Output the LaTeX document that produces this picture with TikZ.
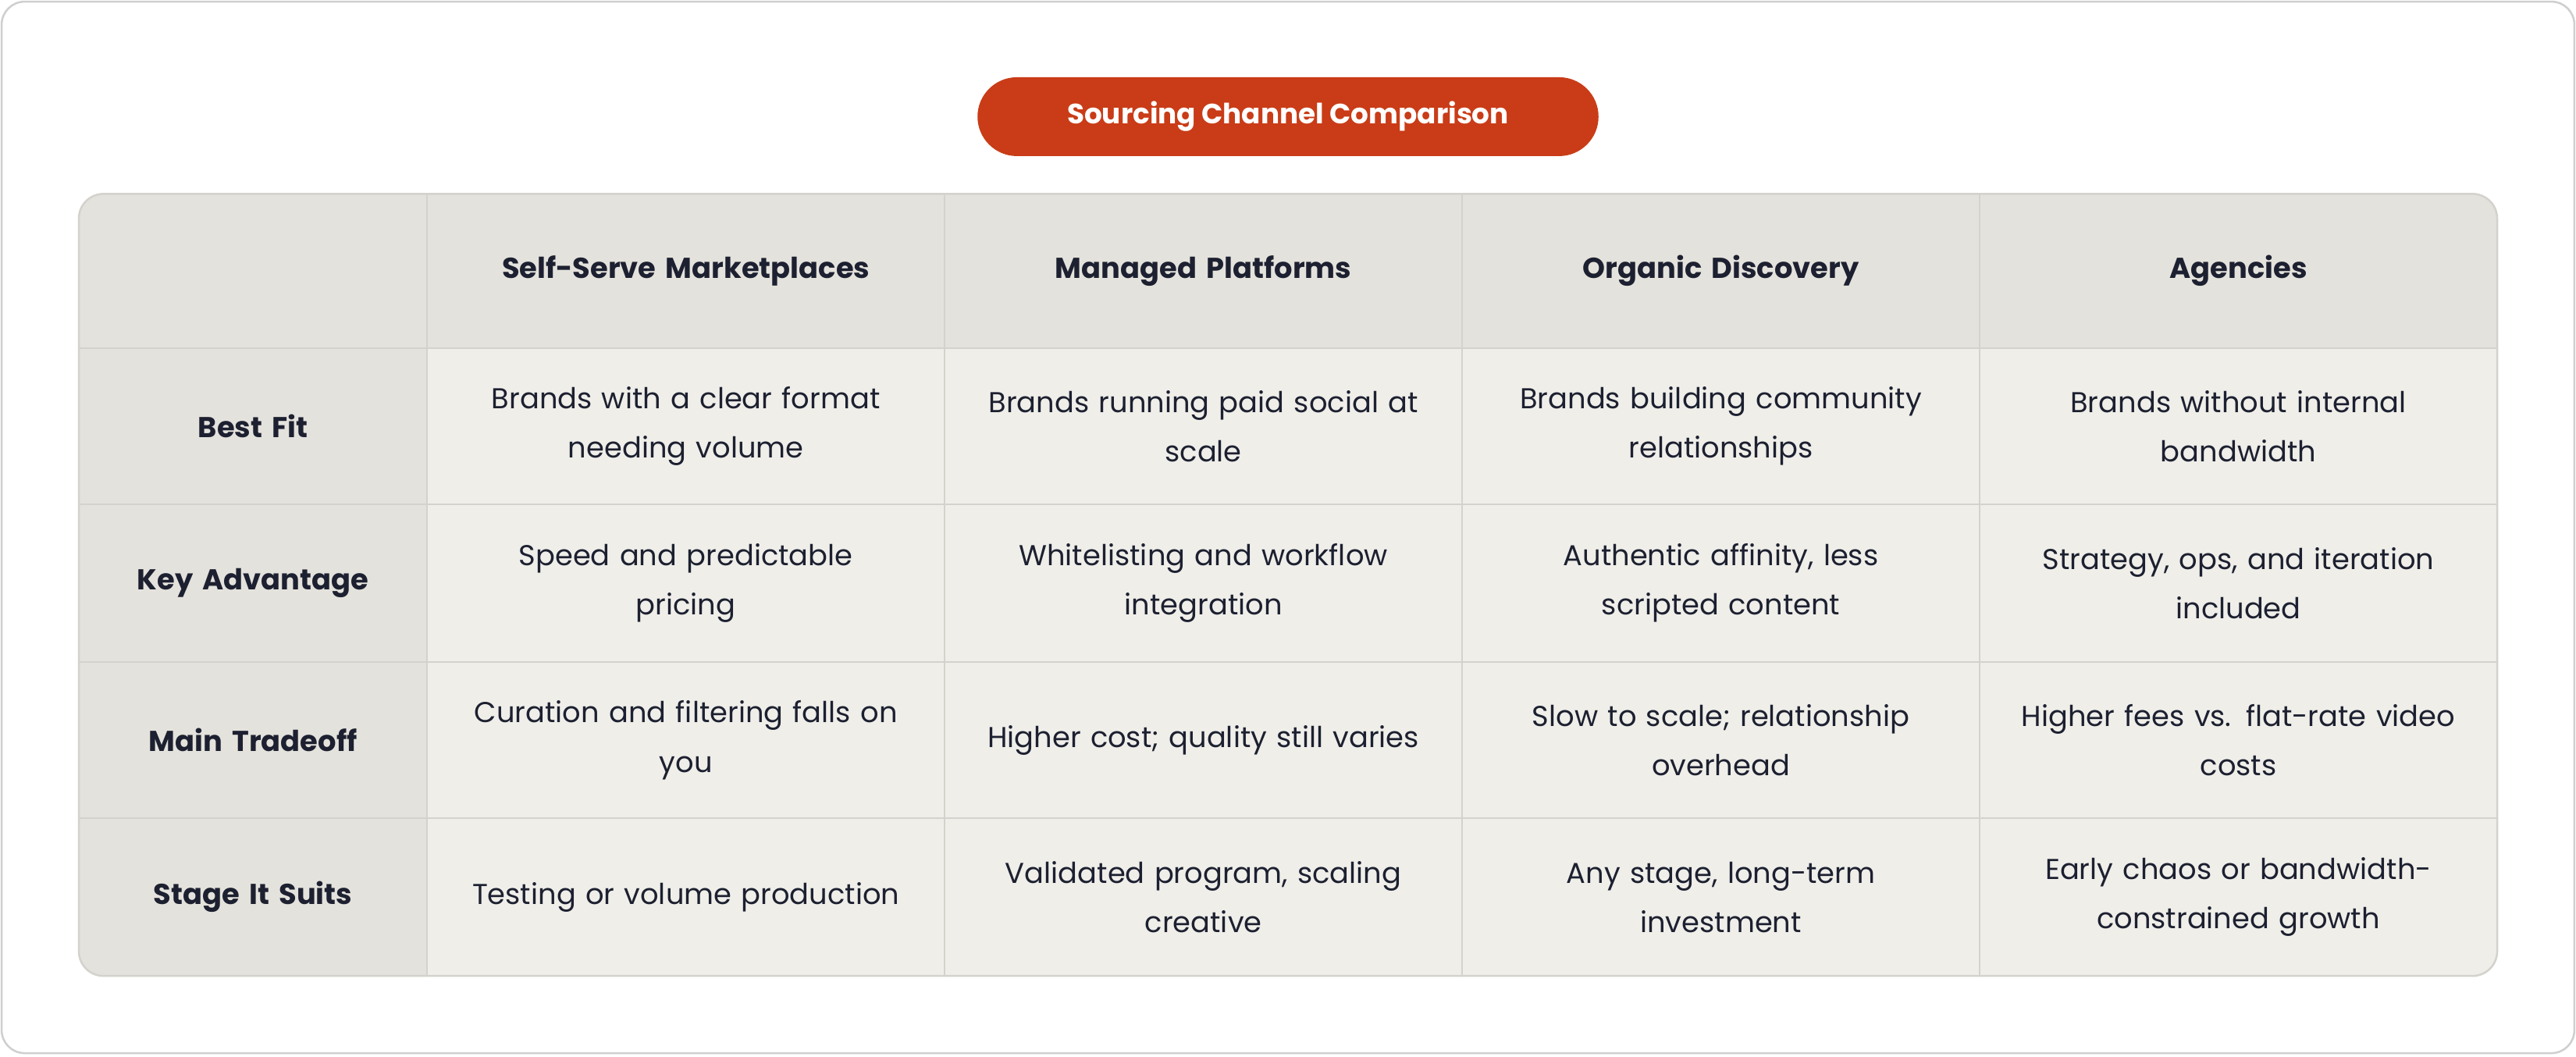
\documentclass[tikz,border=0pt]{standalone}
\usepackage{fontspec}
\setmainfont{Poppins}
\definecolor{pill}{HTML}{C93C17}
\definecolor{hdr}{HTML}{E4E2DC}
\definecolor{cell}{HTML}{EFEEE9}
\definecolor{grid}{HTML}{D4D2CC}
\definecolor{ink}{HTML}{1C2030}
\definecolor{card}{HTML}{CFCFCF}
\begin{document}
\begin{tikzpicture}[x=1pt,y=-1pt,
  body/.style={text=ink,font=\fontsize{17.5}{30}\selectfont,align=center,text width=290pt},
  head/.style={text=ink,font=\fontsize{17.5}{30}\selectfont\bfseries,align=center,text width=290pt},
  rowh/.style={text=ink,font=\fontsize{17.5}{30}\selectfont\bfseries,align=center,text width=200pt}]
\useasboundingbox (0,0) rectangle (1568,643);
\draw[card,line width=1.2pt,fill=white,rounded corners=14] (1,1) rectangle (1567,641);
\node[fill=pill,rounded corners=24,minimum width=378pt,minimum height=48pt,text=white,font=\fontsize{17}{20}\selectfont\bfseries] (title) at (784,71) {Sourcing Channel Comparison};
% table
\fill[cell,rounded corners=15] (48,118) rectangle (1520,594);
\begin{scope}
\clip[rounded corners=15] (48,118) rectangle (1520,594);
\fill[hdr] (48,118) rectangle (1520,212);
\fill[hdr] (48,118) rectangle (260,594);
\foreach \x in {260,575,890,1205} \draw[grid,line width=1pt] (\x,118) -- (\x,594);
\foreach \y in {212,307,403,498} \draw[grid,line width=1pt] (48,\y) -- (1520,\y);
\end{scope}
\draw[grid,line width=1.2pt,rounded corners=15] (48,118) rectangle (1520,594);
% headers
\node[head] (h1) at (417.5,165) {Self-Serve Marketplaces};
\node[head] (h2) at (732.5,165) {Managed Platforms};
\node[head] (h3) at (1047.5,165) {Organic Discovery};
\node[head] (h4) at (1362.5,165) {Agencies};
\node[rowh] (r1) at (154,259.5) {Best Fit};
\node[rowh] (r2) at (154,355) {Key Advantage};
\node[rowh] (r3) at (154,450.5) {Main Tradeoff};
\node[rowh] (r4) at (154,546) {Stage It Suits};
% row 1
\node[body] (c11) at (417.5,259.5) {Brands with a clear format\\needing volume};
\node[body] (c12) at (732.5,259.5) {Brands running paid social at\\scale};
\node[body] (c13) at (1047.5,259.5) {Brands building community\\relationships};
\node[body] (c14) at (1362.5,259.5) {Brands without internal\\bandwidth};
% row 2
\node[body] (c21) at (417.5,355) {Speed and predictable\\pricing};
\node[body] (c22) at (732.5,355) {Whitelisting and workflow\\integration};
\node[body] (c23) at (1047.5,355) {Authentic affinity, less\\scripted content};
\node[body] (c24) at (1362.5,355) {Strategy, ops, and iteration\\included};
% row 3
\node[body] (c31) at (417.5,450.5) {Curation and filtering falls on\\you};
\node[body] (c32) at (732.5,450.5) {Higher cost; quality still varies};
\node[body] (c33) at (1047.5,450.5) {Slow to scale; relationship\\overhead};
\node[body] (c34) at (1362.5,450.5) {Higher fees vs. flat-rate video\\costs};
% row 4
\node[body] (c41) at (417.5,546) {Testing or volume production};
\node[body] (c42) at (732.5,546) {Validated program, scaling\\creative};
\node[body] (c43) at (1047.5,546) {Any stage, long-term\\investment};
\node[body] (c44) at (1362.5,546) {Early chaos or bandwidth-\\constrained growth};
\end{tikzpicture}
\end{document}
